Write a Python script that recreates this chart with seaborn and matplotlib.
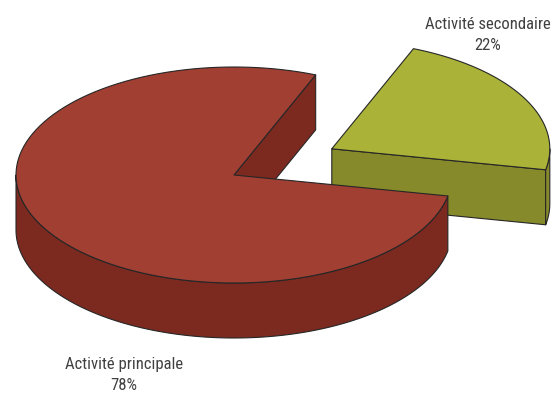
import numpy as np
import matplotlib
matplotlib.use("Agg")
import matplotlib.pyplot as plt
from matplotlib.patches import Polygon
import seaborn as sns

# Share of activity
labels = ["Activité secondaire", "Activité principale"]
shares = [22, 78]

sns.set_theme(style="white")
plt.rcParams["font.family"] = ["Liberation Sans Narrow", "Roboto Condensed",
                               "Liberation Sans", "DejaVu Sans"]

top_colors = ["#aab238", "#a13f33"]
side_colors = ["#868a2a", "#7c2a20"]
edge = "#262626"

W, H = 553, 394
fig = plt.figure(figsize=(W / 100, H / 100), dpi=100)
ax = fig.add_axes([0, 0, 1, 1])
ax.set_xlim(0, W)
ax.set_ylim(H, 0)
ax.axis("off")

# Pie geometry in pixel space (y grows downward)
cx, cy = 234.0, 175.0
rx, ry = 218.0, 108.0
depth = 55.0
start = 68.0          # slices run clockwise from here
explode = [0.51, 0.0]


def arc(ox, oy, a1, a2, n=120):
    t = np.radians(np.linspace(a1, a2, n))
    return np.column_stack([ox + rx * np.cos(t), oy - ry * np.sin(t)])


def add(pts, color, z):
    ax.add_patch(Polygon(pts, closed=True, facecolor=color, edgecolor=edge,
                         linewidth=0.8, joinstyle="round", zorder=z))


total = float(sum(shares))
angles = []
a = start
for s in shares:
    span = 360.0 * s / total
    angles.append((a - span, a))  # counter-clockwise range (lo, hi)
    a -= span

for i, ((lo, hi), share) in enumerate(zip(angles, shares)):
    mid = np.radians((lo + hi) / 2)
    ox = cx + explode[i] * rx * np.cos(mid)
    oy = cy - explode[i] * ry * np.sin(mid)
    z = 2 + 10 * i

    # radial faces whose outward normal points toward the viewer
    for ang, sign in ((lo, -1), (hi, 1)):
        normal = np.radians(ang + 90 * sign)
        if np.sin(normal) < 0:  # points downward on screen -> visible
            p = arc(ox, oy, ang, ang, 1)[0]
            add([(ox, oy), p, (p[0], p[1] + depth), (ox, oy + depth)],
                side_colors[i], z)

    # visible outer wall: lower half of the ellipse
    segs = []
    for k in range(-1, 2):
        a1 = max(lo, 180 + 360 * k)
        a2 = min(hi, 360 + 360 * k)
        if a2 > a1:
            segs.append((a1, a2))
    for a1, a2 in segs:
        upper = arc(ox, oy, a1, a2)
        lower = upper[::-1] + [0, depth]
        add(np.vstack([upper, lower]), side_colors[i], z + 1)

    # top face
    add(np.vstack([[ox, oy], arc(ox, oy, lo, hi), [ox, oy]]), top_colors[i], z + 2)

# labels
ax.text(488, 35, f"{labels[0]}\n{shares[0]}%", ha="center", va="center",
        fontsize=12, color="#404040", linespacing=1.5)
ax.text(124, 375, f"{labels[1]}\n{shares[1]}%", ha="center", va="center",
        fontsize=12, color="#404040", linespacing=1.5)

fig.savefig("out.png", dpi=100)
